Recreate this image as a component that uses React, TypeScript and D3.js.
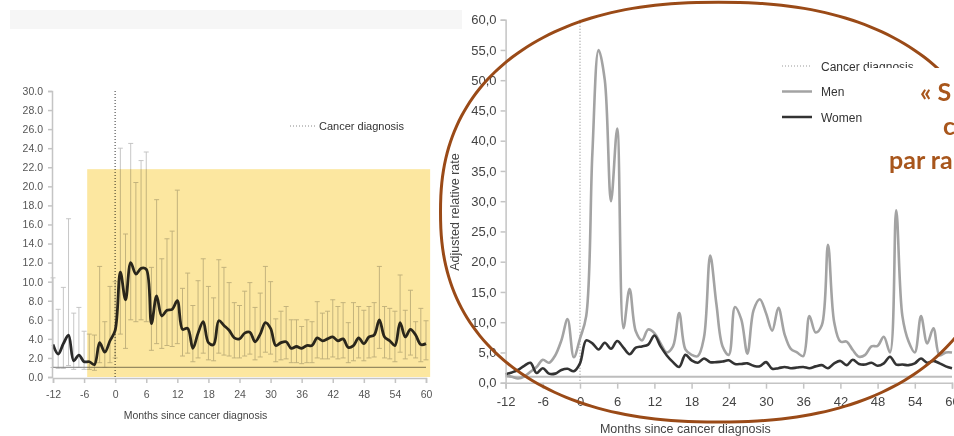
import React, { useEffect, useRef } from 'react';
import * as d3 from 'd3';

// months since diagnosis, shared by both panels
const months = [
  -12, -11, -10, -9, -8, -7, -6, -5, -4, -3, -2, -1,
  0, 1, 2, 3, 4, 5, 6, 7, 8, 9, 10, 11,
  12, 13, 14, 15, 16, 17, 18, 19, 20, 21, 22, 23,
  24, 25, 26, 27, 28, 29, 30, 31, 32, 33, 34, 35,
  36, 37, 38, 39, 40, 41, 42, 43, 44, 45, 46, 47,
  48, 49, 50, 51, 52, 53, 54, 55, 56, 57, 58, 59, 60
];

// left panel: overall rate with confidence interval
const overallRate = [
  3.4, 2.4, 3.5, 4.4, 1.7, 2.3, 1.6, 1.6, 1.3, 3.6, 2.6, 3.8,
  4.9, 11.0, 8.1, 12.0, 10.8, 11.4, 11.3, 5.6, 8.5, 6.4, 7.0, 7.1,
  8.0, 5.0, 5.1, 3.0, 4.6, 5.8, 3.6, 3.4, 5.9, 5.4, 4.9, 4.1,
  4.0, 4.6, 4.7, 3.7, 4.5, 5.7, 5.1, 3.3, 3.6, 3.7, 3.0, 3.2,
  3.0, 3.3, 3.3, 4.1, 3.8, 4.0, 4.2, 3.8, 4.0, 3.1, 3.3, 4.1,
  3.5, 4.2, 4.4, 6.0, 4.2, 3.8, 3.3, 5.7, 4.2, 5.0, 4.4, 3.4, 3.5
];
const overallUpper = [
  10.4, 7.1, 9.4, 16.6, 6.7, 7.3, 4.8, 4.5, 4.4, 11.6, 5.8, 9.5,
  10.0, 24.0, 15.0, 24.5, 20.4, 22.7, 23.6, 11.5, 18.6, 12.4, 14.5, 15.3,
  19.6, 9.3, 10.9, 7.5, 10.1, 12.4, 9.5, 8.3, 12.3, 11.5, 9.9, 7.8,
  7.5, 9.0, 9.9, 7.3, 8.8, 11.6, 10.0, 6.1, 6.9, 7.4, 6.0, 6.0,
  5.3, 6.0, 5.8, 7.9, 6.7, 6.9, 8.1, 7.4, 7.8, 5.7, 7.8, 7.4,
  7.0, 7.4, 7.8, 11.6, 7.4, 7.2, 6.9, 10.7, 7.0, 9.1, 5.8, 7.2, 5.9
];
const overallLower = [
  1.0, 0.9, 0.9, 1.2, 0.8, 1.0, 0.8, 0.8, 0.7, 1.5, 1.0, 1.5,
  2.0, 4.5, 3.0, 6.0, 5.8, 6.0, 5.8, 2.8, 3.5, 3.0, 3.3, 3.2,
  3.5, 2.2, 2.5, 1.6, 2.0, 2.5, 1.8, 1.7, 2.5, 2.3, 2.2, 2.0,
  2.0, 2.2, 2.4, 1.8, 2.1, 2.6, 2.4, 1.6, 1.8, 1.9, 1.5, 1.5,
  1.4, 1.5, 1.5, 2.0, 1.9, 1.9, 2.1, 1.9, 2.0, 1.5, 1.7, 2.0,
  1.7, 2.0, 2.1, 3.0, 2.0, 1.9, 1.6, 2.6, 1.9, 2.3, 2.0, 1.6, 1.8
];

// right panel: rate by sex
const menRate = [
  1.2, 1.0, 0.7, 1.0, 1.8, 2.6, 3.8, 3.3, 4.5, 7.0, 10.5, 4.2,
  7.3, 11.0, 38.0, 55.0, 50.0, 30.0, 42.0, 9.0, 15.5, 8.5, 7.0, 8.8,
  8.2, 6.5, 5.0, 6.0, 11.5, 5.5, 4.6, 4.4, 7.5, 21.0, 13.0, 6.0,
  4.6, 12.5, 10.5, 4.8, 12.0, 13.8, 11.5, 8.6, 12.4, 8.0, 5.6, 5.0,
  4.4, 11.0, 8.3, 9.5, 22.8, 10.0, 6.8, 6.8, 5.4, 4.3, 4.6, 6.0,
  6.1, 7.6, 5.0, 28.5, 11.0, 6.8, 5.0, 11.0, 6.5, 9.0, 4.5, 5.0, 5.0
];
const womenRate = [
  1.4, 1.7, 2.1, 2.8, 3.3, 1.6, 2.4, 1.5, 1.5, 2.1, 2.3, 1.9,
  3.2, 7.0, 6.5, 5.5, 6.6, 5.6, 6.9, 5.8, 4.7, 5.8, 6.0, 6.3,
  7.8, 6.0, 4.5, 3.4, 2.6, 4.6, 3.7, 3.3, 4.0, 3.4, 3.4, 3.5,
  3.7, 3.1, 3.1, 3.2, 2.8, 2.7, 3.4, 2.3, 2.4, 2.6, 2.4, 2.5,
  2.6, 2.4, 2.7, 2.9, 2.4, 3.2, 3.6, 2.9, 3.8, 3.1, 3.0, 3.3,
  2.8, 3.2, 4.3, 3.0, 3.0, 2.9, 3.2, 4.0, 3.3, 3.6, 3.2, 2.7, 2.4
];

const xTicks = [-12, -6, 0, 6, 12, 18, 24, 30, 36, 42, 48, 54, 60];
const leftYTicks = [0, 2, 4, 6, 8, 10, 12, 14, 16, 18, 20, 22, 24, 26, 28, 30];
const rightYTicks = [0, 5, 10, 15, 20, 25, 30, 35, 40, 45, 50, 55, 60];
const referenceRate = 1;
const diagnosisMonth = 0;

// highlighted window on the left panel (months / rate)
const highlightMonths = [-5.4, 60.8];
const highlightTop = 21.8;

// hand-drawn loop on the right panel, in data units
const loopCentre = { month: 22.3, rate: 28.2 };
const loopRadius = { months: 44.8, rate: 34.7 };
const loopSquareness = 2.3;

const legendLeft = ['Cancer diagnosis'];
const legendRight = ['Cancer diagnosis', 'Men', 'Women'];
const calloutLines = ['« S', 'ch', 'par ra'];

const font = '"Liberation Sans", Arial, sans-serif';

export default function App() {
  const lxAxis = useRef<SVGGElement>(null);
  const lyAxis = useRef<SVGGElement>(null);
  const rxAxis = useRef<SVGGElement>(null);
  const ryAxis = useRef<SVGGElement>(null);

  // scales
  const lx = d3.scaleLinear().domain([-12, 60]).range([53, 426]);
  const ly = d3.scaleLinear().domain([0, 30]).range([377, 91]);
  const rx = d3.scaleLinear().domain([-12, 60]).range([505.6, 952]);
  const ry = d3.scaleLinear().domain([0, 60]).range([382.7, 19.7]);

  const leftLine = d3.line<number>()
    .x((d, i) => lx(months[i]))
    .y((d) => ly(d))
    .curve(d3.curveCatmullRom.alpha(0.5));
  const rightLine = d3.line<number>()
    .x((d, i) => rx(months[i]))
    .y((d) => ry(d))
    .curve(d3.curveCatmullRom.alpha(0.5));

  // squarish ellipse for the annotation loop
  const loopPath = (() => {
    const e = 2 / loopSquareness;
    const pts: [number, number][] = d3.range(0, 360, 3).map((deg) => {
      const t = (deg * Math.PI) / 180;
      const c = Math.cos(t), s = Math.sin(t);
      const m = loopCentre.month + loopRadius.months * Math.sign(c) * Math.pow(Math.abs(c), e);
      const v = loopCentre.rate + loopRadius.rate * Math.sign(s) * Math.pow(Math.abs(s), e);
      return [rx(m), ry(v)];
    });
    return d3.line().curve(d3.curveCardinalClosed)(pts) || '';
  })();

  useEffect(() => {
    const style = (g: any, size: number, color: string) => {
      g.select('.domain').attr('stroke', '#c4c4c4').attr('stroke-width', 1.5);
      g.selectAll('.tick line').attr('stroke', '#c4c4c4').attr('stroke-width', 1.5);
      g.selectAll('.tick text')
        .attr('fill', color)
        .style('font-family', font)
        .style('font-size', size + 'px');
    };
    const plain = (d: any) => String(d);
    const comma = (d: any) => d3.format('.1f')(d).replace('.', ',').replace('−', '-');
    const dot = (d: any) => d3.format('.1f')(d).replace('−', '-');

    const l1 = d3.select(lxAxis.current);
    l1.call(d3.axisBottom(lx).tickValues(xTicks).tickSizeOuter(0).tickSize(5).tickPadding(8).tickFormat(plain) as any);
    style(l1, 10.5, '#555');

    const l2 = d3.select(lyAxis.current);
    l2.call(d3.axisLeft(ly).tickValues(leftYTicks).tickSizeOuter(0).tickSize(4).tickPadding(5).tickFormat(dot) as any);
    style(l2, 10.5, '#555');

    const r1 = d3.select(rxAxis.current);
    r1.call(d3.axisBottom(rx).tickValues(xTicks).tickSizeOuter(0).tickSize(6).tickPadding(8).tickFormat(plain) as any);
    style(r1, 13, '#444');

    const r2 = d3.select(ryAxis.current);
    r2.call(d3.axisLeft(ry).tickValues(rightYTicks).tickSizeOuter(0).tickSize(5).tickPadding(4).tickFormat(comma) as any);
    style(r2, 13, '#444');
  }, []);

  return (
    <svg width={954} height={436} style={{ position: 'absolute', left: 0, top: 0, background: '#fff' }}>
      {/* faint header strip of the slide */}
      <rect x={10} y={10} width={452} height={19} fill="#f6f6f6" />

      {/* ---------- left panel ---------- */}
      <line x1={lx(-12)} x2={lx(60)} y1={ly(referenceRate)} y2={ly(referenceRate)} stroke="#999" strokeWidth={1.3} />
      {months.map((m, i) => (
        <g key={'eb' + m} stroke="#8c8c8c" strokeWidth={0.9} opacity={0.55}>
          <line x1={lx(m)} x2={lx(m)} y1={ly(overallUpper[i])} y2={ly(overallLower[i])} />
          <line x1={lx(m) - 2.5} x2={lx(m) + 2.5} y1={ly(overallUpper[i])} y2={ly(overallUpper[i])} />
          <line x1={lx(m) - 2.5} x2={lx(m) + 2.5} y1={ly(overallLower[i])} y2={ly(overallLower[i])} />
        </g>
      ))}
      <line x1={lx(diagnosisMonth)} x2={lx(diagnosisMonth)} y1={ly(30)} y2={ly(0)}
        stroke="#777" strokeWidth={1.5} strokeDasharray="1,2" />
      <path d={leftLine(overallRate) || ''} fill="none" stroke="#2a2a2a" strokeWidth={2.8} />
      <g ref={lxAxis} transform={`translate(0, ${ly(0) + 1})`} />
      <g ref={lyAxis} transform={`translate(${lx(-12) - 1}, 0)`} />
      <text x={lx(15.5)} y={419} textAnchor="middle" fontFamily={font} fontSize={10.5} fill="#444">Months since cancer diagnosis</text>
      {legendLeft.map((t) => (
        <g key={t}>
          <line x1={290} x2={315} y1={126} y2={126} stroke="#888" strokeDasharray="1,2" />
          <text x={319} y={130} fontFamily={font} fontSize={11} fill="#333">{t}</text>
        </g>
      ))}
      {/* highlighted window, multiplied over the chart */}
      <rect x={lx(highlightMonths[0])} y={ly(highlightTop)}
        width={lx(highlightMonths[1]) - lx(highlightMonths[0])} height={ly(0) - ly(highlightTop)}
        fill="#fce7a0" style={{ mixBlendMode: 'multiply' }} />

      {/* ---------- right panel ---------- */}
      <line x1={rx(-12)} x2={rx(60)} y1={ry(referenceRate)} y2={ry(referenceRate)} stroke="#bdbdbd" strokeWidth={2} />
      <line x1={rx(diagnosisMonth)} x2={rx(diagnosisMonth)} y1={ry(60)} y2={ry(0)}
        stroke="#999" strokeWidth={1.2} strokeDasharray="1,2" />
      <path d={rightLine(menRate) || ''} fill="none" stroke="#a3a3a3" strokeWidth={2.6} />
      <path d={rightLine(womenRate) || ''} fill="none" stroke="#333" strokeWidth={2.6} />
      <g ref={rxAxis} transform={`translate(0, ${ry(0)})`} />
      <g ref={ryAxis} transform={`translate(${rx(-12)}, 0)`} />
      <text x={rx(17)} y={433} textAnchor="middle" fontFamily={font} fontSize={12.5} fill="#444">Months since cancer diagnosis</text>
      <text transform={`translate(459, 212) rotate(-90)`} textAnchor="middle" fontFamily={font} fontSize={12.5} fill="#444">Adjusted relative rate</text>
      {legendRight.map((t, i) => (
        <g key={t} transform={`translate(0, ${66 + i * 25.5})`}>
          <line x1={782} x2={812} y1={0} y2={0}
            stroke={i === 0 ? '#999' : i === 1 ? '#a3a3a3' : '#333'}
            strokeWidth={i === 0 ? 1 : 2.5} strokeDasharray={i === 0 ? '1,2' : undefined} />
          <text x={821} y={4.5} fontFamily={font} fontSize={12} fill="#333">{t}</text>
        </g>
      ))}

      {/* hand-drawn loop */}
      <path d={loopPath} fill="none" stroke="#9a4a17" strokeWidth={3} />

      {/* callout text box */}
      <rect x={866} y={68} width={90} height={124} fill="#fff" />
      {calloutLines.map((t, i) => (
        <text key={t} x={[920, 943, 889][i]} y={101 + i * 34} fontFamily="Lato, 'Open Sans', sans-serif"
          fontWeight="bold" fontSize={25} fill="#a8561c">{t}</text>
      ))}
    </svg>
  );
}
